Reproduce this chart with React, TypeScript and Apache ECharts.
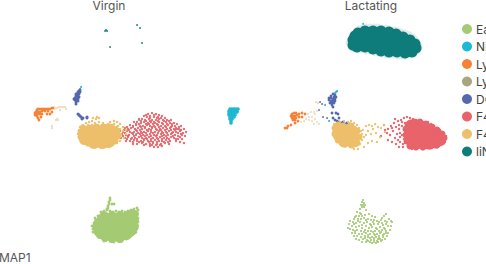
import React, { useEffect, useRef } from "react";
import * as echarts from "echarts";

type P = [number, number];

const panelTitles = ["Virgin", "Lactating"];
const categories = ["Early B", "NK cells", "Ly6C hi", "Ly6C lo", "DC", "F4/80 hi", "F4/80 lo", "liNK"];
const colors = ["#A4CA73", "#1FB8D3", "#F58236", "#A9A67F", "#5468AD", "#E8636A", "#EDBF6A", "#0E7C7A"];
const axisName = "UMAP1";

// Page-pixel style UMAP readings, left panel = Virgin
const vEarlyCore: P[] = [[106,219],[114,219],[122,219],[130,218],[99,226],[107,226],[115,226],[123,226],[131,225],[100,231],[107,234],[115,235],[122,234],[129,231]];
const vEarlyRing: P[] = [[98,222],[97,228],[100,235],[105,238],[112,239],[120,239],[127,236],[133,231],[135,226],[135,220],[135,214],[132,213],[127,215],[120,215],[112,215],[104,215],[101,218]];
const vEarlyEdge: P[] = [[101,212],[104,211],[107,210],[110,211],[113,212],[116,211],[119,212],[122,211],[125,212],[128,211],[131,210],[134,209],[137,208],[138,210],[137,214],[138,218],[138,222],[137,226],[137,229],[136,232],[133,234],[92,226],[93,229],[94,223],[96,220],[98,216],[96,233],[99,236],[102,238],[106,240],[110,241],[114,242],[118,241],[122,241],[126,239],[130,237],[110,198],[110,200],[109,202],[109,204],[108,206],[108,208],[107,209],[112,204],[114,204],[93,232],[95,218],[104,241]];
const vNKBlob: P[] = [[230,109],[232,109],[234,109],[236,109],[238,109],[229,111],[231,111],[233,111],[235,111],[237,111],[229,113],[231,113],[233,113],[235,113],[237,112],[229,115],[231,115],[233,115],[235,115],[230,117],[232,117],[234,117],[230,119],[232,119],[231,121],[231,123]];
const vNKStray: P[] = [[81,87],[80,89],[139,120],[136,134],[135,129]];
const vTeal: P[] = [[106,30],[105,31],[107,31],[137,25],[140,28],[142,43],[110,47]];
const vOrange: P[] = [[36,112],[37,110],[38,109],[40,109],[42,109],[44,109],[46,109],[48,109],[50,109],[52,108],[54,108],[36,114],[37,116],[38,118],[39,120],[35,113],[38,112],[40,112],[42,111],[45,111],[48,111],[40,114],[42,114],[47,114],[50,114],[52,112],[41,117],[44,110],[38,114],[35,115]];
const vBeige: P[] = [[55,108],[57,108],[59,107],[61,107],[63,107],[65,107],[66,109],[57,119],[58,120],[56,120],[52,126],[52,128],[60,110]];
const vBlue: P[] = [[80,90],[79,91],[78,92],[80,92],[77,94],[79,94],[76,96],[78,96],[75,98],[77,98],[75,100],[77,100],[76,102],[78,101],[78,114],[79,115],[80,116],[81,117],[82,119],[83,118],[87,117],[87,118],[76,94],[79,97],[74,99],[78,99],[76,104]];
const vRed: P[] = [
[148,114],[152,113],[156,114],[159,115],[144,116],[147,117],[150,116],[154,117],[158,117],[162,116],[165,118],
[139,119],[142,119],[145,120],[149,119],[152,120],[156,120],[159,119],[163,120],[167,120],[171,120],
[134,122],[137,122],[141,123],[144,122],[148,123],[151,122],[155,123],[159,122],[162,123],[166,122],[170,123],[174,123],[177,124],
[130,125],[133,126],[136,125],[140,126],[143,126],[147,125],[150,126],[154,126],[158,125],[161,126],[165,126],[168,125],[172,126],[175,126],[179,127],[181,126],
[125,128],[128,129],[131,128],[135,129],[138,128],[142,129],[145,128],[149,129],[152,128],[156,129],[160,129],[163,128],[167,129],[170,128],[174,129],[177,129],[181,130],[184,129],
[120,131],[123,132],[127,131],[130,132],[134,132],[137,131],[141,132],[144,132],[148,131],[151,132],[155,132],[159,131],[162,132],[166,132],[169,131],[173,132],[176,132],[180,131],[183,133],[186,132],
[119,135],[122,134],[126,135],[129,135],[133,134],[136,135],[140,134],[143,135],[147,135],[150,134],[154,135],[157,135],[161,134],[164,135],[168,135],[171,134],[175,135],[178,136],[182,135],[185,136],
[121,138],[125,138],[128,137],[132,138],[135,138],[139,137],[142,138],[146,138],[149,137],[153,138],[157,138],[160,137],[164,138],[167,138],[171,137],[174,138],[178,139],[182,139],
[126,141],[130,141],[134,140],[137,141],[141,141],[144,140],[148,141],[151,141],[155,140],[159,141],[162,141],[166,140],[170,141],[176,141],[180,142],[184,143],
[133,144],[137,144],[142,143],[146,144],[150,144],[153,143],[157,144],[161,144],[165,143],[169,144],[150,146],[154,147],[158,147],[162,146],
[146,115],[150,118],[154,115],[157,118],[161,118],[141,121],[146,121],[150,121],[154,122],[158,121],[164,121],[169,121],[136,124],[139,124],[146,124],[149,124],[153,124],[157,124],[163,124],[167,124],[172,124],
[127,127],[133,127],[141,127],[145,127],[152,127],[155,127],[159,127],[166,127],[171,127],[176,128],[124,130],[129,130],[136,130],[140,130],[147,130],[151,130],[157,130],[161,130],[165,130],[171,130],[175,130],[179,129],
[125,133],[132,133],[138,133],[142,133],[146,133],[153,133],[158,133],[163,133],[167,133],[172,133],[178,133],[181,134],[123,136],[128,136],[134,136],[141,136],[145,136],[151,136],[156,136],[162,136],[166,136],[173,136],[180,137],
[127,139],[131,139],[137,139],[144,139],[147,139],[151,139],[158,139],[162,139],[169,139],[176,139],[133,142],[139,142],[143,142],[149,142],[153,142],[157,142],[164,142],[168,142],[144,145],[152,145],[156,145],[160,145],
];
const vYellowCore: P[] = [[85,133],[92,132],[99,131],[106,131],[112,131],[85,139],[92,139],[99,139],[106,139],[112,138],[94,143],[102,143],[108,142]];
const vYellowRing: P[] = [[81,132],[81,137],[83,141],[88,143],[95,144],[103,145],[110,144],[115,141],[118,136],[117,131],[110,127],[103,127],[96,127],[89,128],[83,128]];
const vYellowEdge: P[] = [[79,130],[80,127],[83,125],[86,123],[89,122],[92,121],[96,119],[99,118],[95,123],[99,122],[103,123],[106,125],[110,122],[114,121],[117,122],[120,124],[123,127],[120,129],[117,127],[112,125],[108,124],[103,125],[98,125],[92,125],[88,125],[78,134],[79,137],[81,141],[84,143],[87,145],[91,146],[96,146],[100,147],[105,147],[109,146],[113,145],[117,143],[120,141],[120,136],[121,134],[123,131],[126,130],[126,134],[124,138],[97,117],[93,118],[118,126],[114,124]];

// Right panel = Lactating
const lTealHalo: P[] = [[349,40],[348,43],[350,47],[351,36],[353,33],[357,29],[359,28],[362,27],[366,26],[370,26],[374,26],[378,26],[382,27],[386,27],[389,28],[392,29],[395,29],[398,30],[401,31],[404,32],[407,33],[410,34],[413,36],[415,38],[417,40],[418,42],[419,44],[420,46],[420,48],[419,50],[417,52],[415,54],[412,55],[409,56],[405,57],[402,57],[398,57],[394,56],[390,56],[386,56],[382,55],[378,54],[374,53],[370,52],[366,52],[362,51],[358,51],[355,50],[352,49]];
const lTealRing: P[] = [[353,40],[353,45],[355,36],[358,33],[365,31],[373,31],[381,31],[389,32],[396,34],[403,37],[410,40],[415,44],[416,48],[412,52],[405,53],[397,52],[389,52],[381,51],[373,49],[365,47],[357,47]];
const lTealCore: P[] = [[358,38],[367,36],[377,36],[387,37],[397,39],[406,43],[411,47],[358,42],[368,42],[378,44],[388,45],[398,46],[406,49],[402,45]];
const lNK: P[] = [[363,24],[336,92],[335,93],[337,91],[325,105],[346,126],[329,121]];
const lOrange: P[] = [[292,114],[294,113],[296,113],[291,116],[293,116],[295,116],[297,115],[292,118],[294,118],[296,118],[293,120],[295,120],[299,114],[302,113],[305,114],[299,117],[302,117],[298,121],[295,123],[291,125],[288,126],[285,128],[287,128]];
const lBeige: P[] = [[308,114],[311,112],[314,112],[317,111],[309,117],[312,117],[315,114],[306,119],[309,120],[312,121],[315,119],[317,122],[319,124],[314,124],[301,122],[304,121],[316,102],[318,103]];
const lBlue: P[] = [[333,94],[335,95],[331,96],[334,97],[336,97],[329,98],[331,98],[333,99],[335,99],[329,100],[331,101],[333,101],[335,101],[330,103],[332,103],[334,103],[332,105],[333,107],[332,113],[336,113],[338,114],[333,118],[335,120],[337,121],[339,122],[337,124],[341,123],[343,122],[345,124],[347,123],[350,124],[339,118]];
const lBlueStray: P[] = [[320,102],[322,104],[319,110],[323,117],[327,118]];
const lRedCore: P[] = [[411,125],[418,125],[425,127],[410,132],[417,132],[424,132],[431,133],[438,135],[412,139],[419,139],[426,139],[433,139],[440,137],[415,144],[422,144],[429,144],[435,143]];
const lRedRing: P[] = [[408,125],[414,122],[420,122],[426,124],[432,127],[437,130],[442,134],[444,138],[442,142],[437,145],[430,146],[423,147],[416,147],[410,146],[407,141],[406,135],[406,129]];
const lRedEdge: P[] = [[404,118],[407,117],[410,118],[413,119],[416,120],[420,120],[424,122],[428,122],[431,124],[434,126],[437,128],[440,130],[443,133],[446,136],[446,139],[445,142],[441,145],[437,147],[432,148],[427,148],[422,149],[417,148],[412,149],[408,146],[405,143],[404,139],[402,135],[404,130],[402,126],[405,123],[398,121],[394,123],[391,126],[396,127],[399,129],[393,131],[397,134],[400,137],[395,138],[390,135],[387,133],[385,130],[392,142],[396,144],[400,142],[384,125],[388,140],[381,136],[401,120],[399,147],[403,147],[402,122],[399,125],[395,119],[400,133],[392,128],[388,129],[398,140],[403,144]];
const lYellowCore: P[] = [[339,130],[346,130],[353,131],[339,136],[346,137],[353,137],[344,142],[351,142]];
const lYellowRing: P[] = [[335,128],[335,134],[338,140],[345,144],[352,145],[357,143],[359,137],[357,131],[351,126],[343,126],[338,125]];
const lYellowEdge: P[] = [[334,124],[337,123],[340,122],[344,121],[348,122],[351,121],[354,123],[357,125],[349,124],[359,128],[361,131],[363,130],[362,134],[364,137],[362,140],[360,144],[356,146],[350,147],[346,146],[341,145],[337,142],[334,137],[333,132],[333,128],[366,126],[369,125],[372,126],[375,124],[378,127],[373,129],[368,131],[366,135],[371,134],[376,133],[380,137],[372,141],[368,143],[364,147],[358,149],[354,149],[381,128],[385,132],[377,142],[384,125]];
const lEarly: P[] = [[363,200],[362,202],[364,203],[361,205],[363,205],[365,205],[362,207],[364,207],[360,209],[366,210],[357,212],[360,213],[356,216],[359,216],[362,216],[365,215],[369,214],[372,216],[375,217],[386,214],[384,216],[382,218],[354,219],[358,219],[361,219],[364,218],[368,219],[371,220],[374,220],[377,221],[381,220],[385,221],[389,219],[350,221],[353,222],[356,223],[360,222],[364,223],[367,222],[370,224],[374,224],[378,224],[382,223],[386,224],[391,221],[392,222],[349,224],[352,226],[356,227],[359,226],[362,228],[366,226],[369,228],[372,227],[376,228],[380,227],[384,228],[388,226],[391,226],[348,228],[350,229],[353,230],[357,230],[361,231],[365,230],[368,231],[371,231],[375,231],[379,231],[382,230],[386,231],[390,230],[352,233],[355,233],[359,234],[362,234],[366,233],[370,234],[374,234],[377,234],[380,233],[384,234],[388,233],[354,236],[357,236],[361,237],[365,236],[368,237],[372,237],[376,237],[379,236],[383,237],[387,236],[356,239],[359,240],[363,239],[367,240],[371,240],[374,240],[378,239],[382,240],[385,239],[362,242],[366,242],[370,242],[374,242],[378,242],[381,241],
[355,217],[361,214],[358,221],[366,220],[373,222],[379,222],[387,222],[354,224],[362,225],[371,225],[383,225],[355,231],[364,232],[373,232],[377,229],[381,232],[385,229],[368,235],[375,235],[379,238],[383,235],[365,238],[370,238],[374,238],[377,241],[368,241],[372,243],[376,243],[380,239],[386,233]];

const pieces: [number, number, P[], number, string?][] = [
  [0, 0, vEarlyEdge, 2.8], [0, 0, vEarlyRing, 8], [0, 0, vEarlyCore, 13], [0, 1, lEarly, 2.1],
  [1, 0, vNKBlob, 3.6], [1, 0, vNKStray, 2], [1, 1, lNK, 2],
  [2, 0, vOrange, 2.8], [2, 1, lOrange, 2.8],
  [3, 0, vBeige, 2.4, "#EFDDBC"], [3, 1, lBeige, 2.1, "#EFDDBC"],
  [4, 0, vBlue, 3], [4, 1, lBlue, 2.8], [4, 1, lBlueStray, 1.8],
  [5, 0, vRed, 2.3], [5, 1, lRedCore, 11], [5, 1, lRedRing, 7], [5, 1, lRedEdge, 2.4],
  [6, 0, vYellowCore, 12], [6, 0, vYellowRing, 7], [6, 0, vYellowEdge, 2.5], [6, 1, lYellowCore, 11], [6, 1, lYellowRing, 7], [6, 1, lYellowEdge, 2.3],
  [7, 0, vTeal, 1.8], [7, 1, lTealHalo, 5, "#DDEBEA"], [7, 1, lTealRing, 11], [7, 1, lTealCore, 17],
];

export default function App() {
  const ref = useRef<HTMLDivElement>(null);
  useEffect(() => {
    document.body.style.margin = "0";
    document.body.style.overflow = "hidden";
    const chart = echarts.init(ref.current!, undefined, { renderer: "svg" });
    const font = "Inter, 'Noto Sans', sans-serif";
    chart.setOption({
      animation: false,
      textStyle: { fontFamily: font },
      title: panelTitles.map((text, i) => ({
        text,
        left: i === 0 ? 109 : 371,
        top: -1,
        textAlign: "center",
        padding: 0,
        textStyle: { fontSize: 12, fontWeight: 400, color: "#555", fontFamily: font },
      })),
      grid: [
        { left: 0, top: 0, width: 243, height: 264 },
        { left: 243, top: 0, width: 243, height: 264 },
      ],
      xAxis: [0, 1].map((i) => ({ gridIndex: i, type: "value", min: i * 243, max: (i + 1) * 243, show: false })),
      yAxis: [0, 1].map((i) => ({ gridIndex: i, type: "value", min: 0, max: 264, inverse: true, show: false })),
      legend: {
        orient: "vertical",
        left: 462,
        top: 23,
        padding: 0,
        itemWidth: 10,
        itemHeight: 10,
        itemGap: 5.5,
        icon: "circle",
        data: categories.map((name, i) => ({ name, itemStyle: { color: colors[i] } })),
        textStyle: { fontSize: 12, color: "#444", fontFamily: font, padding: [0, 0, 0, -1] },
        selectedMode: false,
      },
      series: pieces.map(([cat, panel, data, size, override]) => ({
        name: categories[cat],
        type: "scatter",
        xAxisIndex: panel,
        yAxisIndex: panel,
        data,
        symbolSize: size,
        itemStyle: { color: override ?? colors[cat], opacity: 1 },
        emphasis: { disabled: true },
        silent: true,
        clip: false,
      })),
      color: colors,
      graphic: [
        { type: "text", left: -10, top: 251, style: { text: axisName, fontSize: 12, fill: "#555", fontFamily: font } },
      ],
    });
    return () => chart.dispose();
  }, []);
  return <div ref={ref} style={{ width: 486, height: 264 }} />;
}
